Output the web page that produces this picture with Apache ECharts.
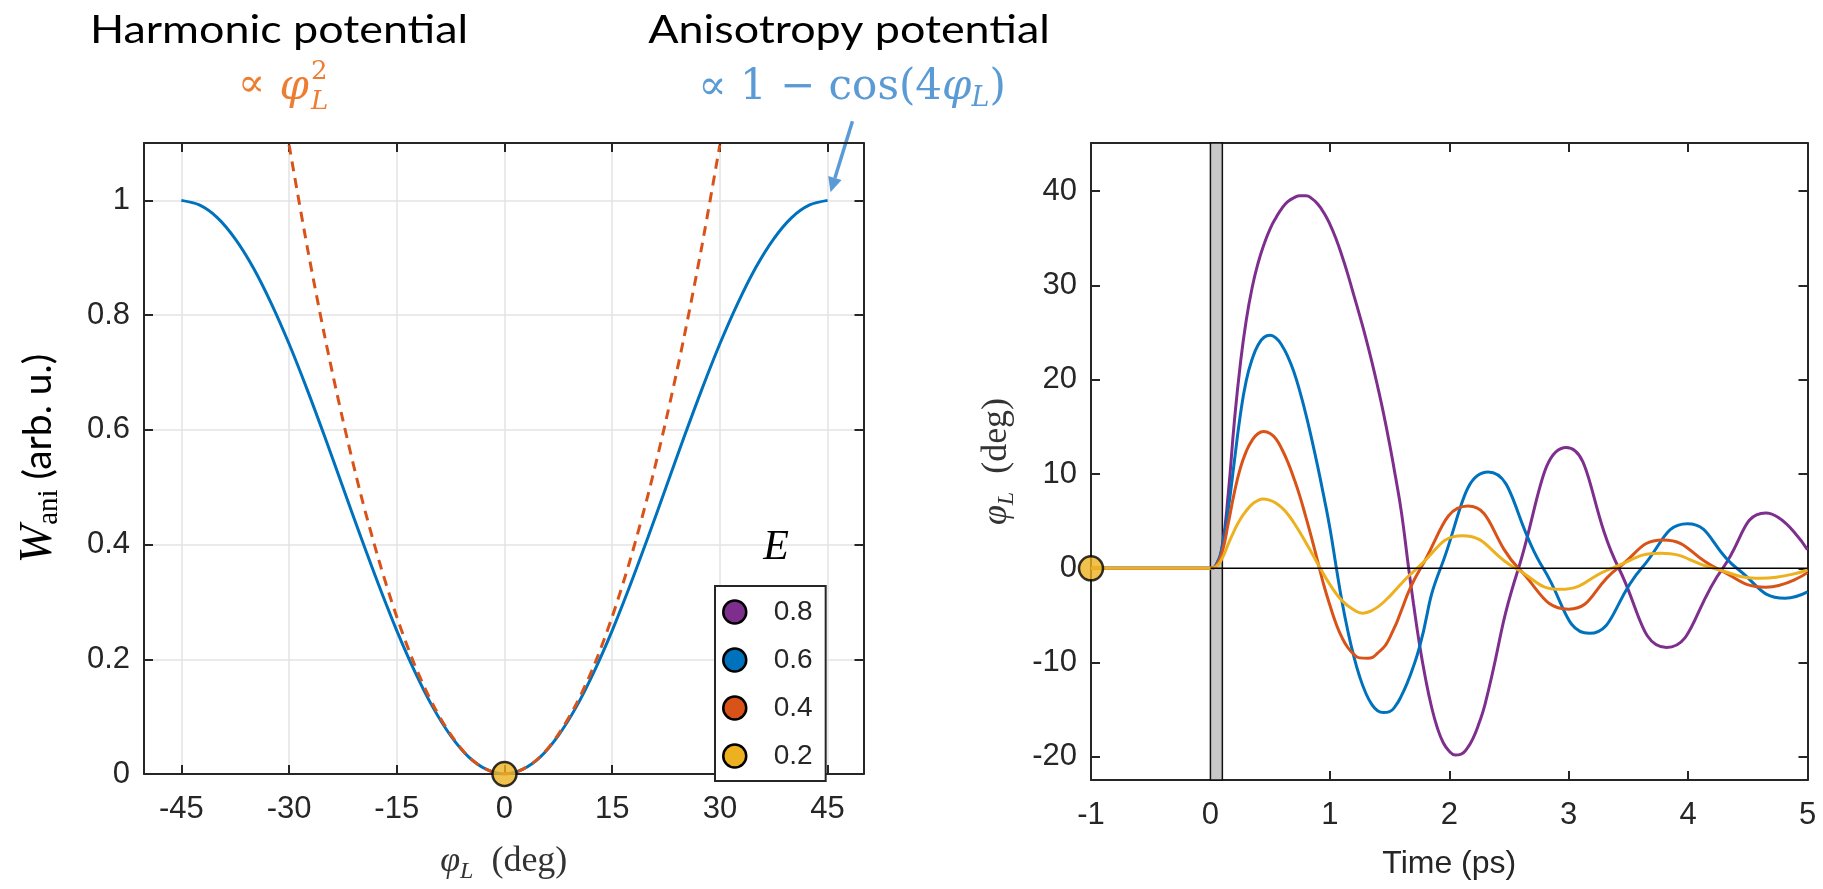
<!DOCTYPE html>
<html><head><meta charset="utf-8">
<script src="https://cdn.jsdelivr.net/npm/echarts@6/dist/echarts.min.js"></script>
<style>html,body{margin:0;padding:0;background:#fff}#c{width:1823px;height:889px}</style>
</head><body><div id="c"></div>
<script>
// ---------- DATA ----------
// Left panel: anisotropy potential W_ani vs phi_L (deg)
const phiDeg = [-45,-42.5,-40,-37.5,-35,-32.5,-30,-27.5,-25,-22.5,-20,-17.5,-15,-12.5,-10,-7.5,-5,-2.5,0,2.5,5,7.5,10,12.5,15,17.5,20,22.5,25,27.5,30,32.5,35,37.5,40,42.5,45];
const wAni   = [1,0.992,0.97,0.933,0.883,0.821,0.75,0.671,0.587,0.5,0.413,0.329,0.25,0.179,0.117,0.067,0.03,0.008,0,0.008,0.03,0.067,0.117,0.179,0.25,0.329,0.413,0.5,0.587,0.671,0.75,0.821,0.883,0.933,0.97,0.992,1];
// harmonic approximation (dashed)
const phiHarm = [-30,-27.5,-25,-22.5,-20,-17.5,-15,-12.5,-10,-7.5,-5,-2.5,0,2.5,5,7.5,10,12.5,15,17.5,20,22.5,25,27.5,30];
const wHarm   = [1.097,0.921,0.761,0.617,0.487,0.373,0.274,0.19,0.122,0.069,0.03,0.008,0,0.008,0.03,0.069,0.122,0.19,0.274,0.373,0.487,0.617,0.761,0.921,1.097];
const xTicksL = [-45,-30,-15,0,15,30,45];
const yTicksL = [0,0.2,0.4,0.6,0.8,1];

// Right panel: phi_L (deg) vs time (ps) for E = 0.8, 0.6, 0.4, 0.2
const energies = ['0.8','0.6','0.4','0.2'];
const tE08 = [-1,0,0.05,0.1,0.15,0.2,0.25,0.3,0.35,0.4,0.45,0.5,0.55,0.6,0.65,0.7,0.75,0.8,0.85,0.9,0.95,1.0,1.05,1.1,1.15,1.2,1.25,1.3,1.35,1.4,1.45,1.5,1.55,1.6,1.66,1.7,1.75,1.8,1.85,1.9,1.95,2.0,2.05,2.1,2.15,2.2,2.25,2.3,2.58,2.98,3.42,3.82,4.29,4.65,5];
const vE08 = [0,0,0.4,2.5,8,15.5,21.6,26.3,29.8,32.4,34.4,36.0,37.2,38.2,38.9,39.3,39.5,39.5,39.2,38.6,37.7,36.5,35.0,33.2,31.2,29.0,26.8,24.5,22.0,19.3,16.4,13.2,9.7,5.9,0,-3.7,-8.0,-11.6,-14.6,-16.9,-18.5,-19.4,-19.8,-19.7,-19.1,-18.0,-16.4,-14.4,0,12.8,0,-8.4,0,5.86,1.96];
const tE06 = [-1,0,0.05,0.1,0.15,0.2,0.25,0.3,0.35,0.4,0.45,0.5,0.55,0.6,0.65,0.7,0.75,0.8,0.85,0.9,0.95,1.0,1.055,1.1,1.15,1.2,1.25,1.3,1.35,1.4,1.45,1.5,1.55,1.6,1.65,1.7,1.75,1.927,2.326,2.787,3.173,3.61,3.994,4.408,4.813,5];
const vE06 = [0,0,0.4,2.3,6.3,11.3,16.2,19.9,22.2,23.7,24.5,24.7,24.4,23.6,22.4,20.8,18.7,16.3,13.6,10.7,7.6,4.3,0,-3.4,-6.6,-9.3,-11.5,-13.2,-14.4,-15.1,-15.3,-15.2,-14.6,-13.5,-12.1,-10.4,-8.4,0,10.2,0,-6.9,0,4.73,0,-3.17,-2.5];
const tE04 = [-1,0,0.05,0.1,0.15,0.2,0.25,0.3,0.35,0.4,0.446,0.5,0.55,0.6,0.65,0.7,0.75,0.8,0.85,0.913,0.95,1.0,1.05,1.1,1.15,1.2,1.25,1.317,1.4,1.5,1.76,2.157,2.58,3.0,3.41,3.79,4.24,4.65,5];
const vE04 = [0,0,0.3,1.8,4.8,8.0,10.6,12.4,13.6,14.3,14.5,14.3,13.7,12.6,11.2,9.5,7.6,5.4,3.1,0,-1.8,-3.9,-5.8,-7.3,-8.4,-9.1,-9.5,-9.54,-9.0,-7.4,0,6.6,0,-4.33,0,3.0,0,-2.0,-0.46];
const tE02 = [-1,0,0.05,0.1,0.15,0.2,0.25,0.3,0.35,0.4,0.44,0.5,0.55,0.6,0.65,0.7,0.75,0.8,0.85,0.92,1.0,1.1,1.2,1.275,1.35,1.45,1.73,2.11,2.555,2.93,3.36,3.77,4.21,4.61,5];
const vE02 = [0,0,0.2,1.1,2.6,4.0,5.2,6.1,6.8,7.2,7.35,7.2,6.9,6.4,5.7,4.8,3.8,2.7,1.6,0,-1.7,-3.4,-4.4,-4.76,-4.5,-3.6,0,3.45,0,-2.23,0,1.6,0,-1.06,-0.18];
const tTicks = [-1,0,1,2,3,4,5];
const yTicksR = [-20,-10,0,10,20,30,40];
const pulse = [0, 0.1];   // excitation pulse window (ps)

// ---------- STYLE ----------
const AX = '#262626';
const SANS = '"Liberation Sans", Arial, sans-serif';
const SERIF = '"Liberation Serif", "DejaVu Serif", serif';
const MATH = '"DejaVu Serif", "Liberation Serif", serif';
const CAL = 'Lato, "Open Sans", sans-serif';
const COLORS = {'0.8':'#7E2F8E','0.6':'#0072BD','0.4':'#D95319','0.2':'#EDB120'};
const zip = (a,b) => a.map((v,i)=>[v,b[i]]);

const chart = echarts.init(document.getElementById('c'));

function axisX(grid, pos, min, max, ticks, showLabels, extra) {
  return Object.assign({
    type:'value', gridIndex:grid, position:pos, min:min, max:max,
    axisLine:{show:true, onZero:false, lineStyle:{color:AX, width:2}},
    axisTick:{show:true, inside:true, length:9, customValues:ticks, lineStyle:{color:AX, width:2}},
    axisLabel:{show:showLabels, customValues:ticks, fontSize:31, color:AX, fontFamily:SANS, margin:20},
    splitLine:{show:false}
  }, extra||{});
}
function axisY(grid, pos, min, max, ticks, showLabels, extra) {
  return Object.assign({
    type:'value', gridIndex:grid, position:pos, min:min, max:max,
    axisLine:{show:true, onZero:false, lineStyle:{color:AX, width:2}},
    axisTick:{show:true, inside:true, length:9, customValues:ticks, lineStyle:{color:AX, width:2}},
    axisLabel:{show:showLabels, customValues:ticks, fontSize:31, color:AX, fontFamily:SANS, margin:14},
    splitLine:{show:false}
  }, extra||{});
}
const gridLine = {show:true, lineStyle:{color:'#e3e3e3', width:1.5}};

const latexRich = {
  p:{fontFamily:SERIF, fontStyle:'italic', fontSize:36, color:'#333'},
  s:{fontFamily:SERIF, fontStyle:'italic', fontSize:24, color:'#333', padding:[20,0,0,0]},
  t:{fontFamily:SERIF, fontSize:36, color:'#333'}
};

const option = {
  animation:false,
  backgroundColor:'#fff',
  grid:[
    {left:144, top:143, width:719.5, height:637},
    {left:1091, top:143, width:716.5, height:637}
  ],
  legend:{
    data:energies, orient:'vertical', left:715, top:586,
    icon:'circle', itemWidth:68, itemHeight:23, itemGap:20,
    padding:[12,13,11,7],
    borderColor:AX, borderWidth:2, backgroundColor:'#fff',
    itemStyle:{borderColor:'#000', borderWidth:2.5},
    textStyle:{fontSize:28, fontFamily:SANS, color:AX, lineHeight:23},
    selectedMode:false
  },
  xAxis:[
    axisX(0,'bottom',-50.2,50,xTicksL,true,{
      splitLine:gridLine,
      name:'{p|φ}{s|L}{t|  (deg)}', nameLocation:'middle', nameGap:66,
      nameTextStyle:{rich:latexRich}
    }),
    axisX(0,'top',-50.2,50,xTicksL,false),
    axisX(1,'bottom',-1,5,tTicks,true,{
      name:'Time (ps)', nameLocation:'middle', nameGap:68,
      nameTextStyle:{fontSize:32, fontFamily:SANS, color:AX}
    }),
    axisX(1,'top',-1,5,tTicks,false)
  ],
  yAxis:[
    axisY(0,'left',0,1.1,yTicksL,true,{
      splitLine:gridLine,
      name:'{w|W}{s|ani}{t| (arb. u.)}', nameLocation:'middle', nameGap:80,
      nameTextStyle:{rich:{
        w:{fontFamily:SERIF, fontStyle:'italic', fontSize:46, color:'#000'},
        s:{fontFamily:SERIF, fontSize:29, color:'#000', padding:[22,0,0,0]},
        t:{fontFamily:CAL, fontSize:39, color:'#000'}
      }}
    }),
    axisY(0,'right',0,1.1,yTicksL,false),
    axisY(1,'left',-22.45,45.1,yTicksR,true,{
      name:'{p|φ}{s|L}{t|  (deg)}', nameLocation:'middle', nameGap:72,
      nameTextStyle:{rich:latexRich}
    }),
    axisY(1,'right',-22.45,45.1,yTicksR,false)
  ],
  series:[
    {type:'line', name:'aniso', xAxisIndex:0, yAxisIndex:0, data:zip(phiDeg,wAni),
     showSymbol:false, symbol:'none', smooth:0.3, lineStyle:{color:'#0072BD', width:3}, z:3},
    {type:'line', name:'harm', xAxisIndex:0, yAxisIndex:0, data:zip(phiHarm,wHarm),
     showSymbol:false, symbol:'none', smooth:0.3, lineStyle:{color:'#D95319', width:3, type:[10,7]}, z:4},
    {type:'scatter', name:'dotL', xAxisIndex:0, yAxisIndex:0, data:[[0,0]], clip:false,
     symbolSize:24, itemStyle:{color:'#EDB120', borderColor:'#000', borderWidth:2.5}, z:10},
    // pulse window + zero line
    {type:'line', name:'zero', xAxisIndex:2, yAxisIndex:2, data:[[pulse[0],0],[5,0]],
     showSymbol:false, symbol:'none', lineStyle:{color:'#000', width:1.5}, z:8,
     markArea:{silent:true, itemStyle:{color:'#c8c8c8', borderColor:'#111', borderWidth:1.5},
       data:[[{xAxis:pulse[0]},{xAxis:pulse[1]}]]}},
    {type:'line', name:'0.8', xAxisIndex:2, yAxisIndex:2, data:zip(tE08,vE08), showSymbol:false, symbol:'none',
     smooth:0.5, color:COLORS['0.8'], lineStyle:{width:3}, z:4},
    {type:'line', name:'0.6', xAxisIndex:2, yAxisIndex:2, data:zip(tE06,vE06), showSymbol:false, symbol:'none',
     smooth:0.5, color:COLORS['0.6'], lineStyle:{width:3}, z:5},
    {type:'line', name:'0.4', xAxisIndex:2, yAxisIndex:2, data:zip(tE04,vE04), showSymbol:false, symbol:'none',
     smooth:0.5, color:COLORS['0.4'], lineStyle:{width:3}, z:6},
    {type:'line', name:'0.2', xAxisIndex:2, yAxisIndex:2, data:zip(tE02,vE02), showSymbol:false, symbol:'none',
     smooth:0.5, color:COLORS['0.2'], lineStyle:{width:3}, z:7},
    {type:'scatter', name:'dotR', xAxisIndex:2, yAxisIndex:2, data:[[-1,0]], clip:false,
     symbolSize:24, itemStyle:{color:'#EDB120', borderColor:'#000', borderWidth:2.5}, z:10}
  ]
};
chart.setOption(option);

// ---------- annotations ----------
const tip = chart.convertToPixel({xAxisIndex:0, yAxisIndex:0}, [45.4, 1.014]);
const tail = [tip[0]+22, tip[1]-71];
const ang = Math.atan2(tip[1]-tail[1], tip[0]-tail[0]);
const hl = 15, hw = 7;
const base = [tip[0]-hl*Math.cos(ang), tip[1]-hl*Math.sin(ang)];
const head = [tip, [base[0]+hw*Math.sin(ang), base[1]-hw*Math.cos(ang)], [base[0]-hw*Math.sin(ang), base[1]+hw*Math.cos(ang)]];
const BLUE = '#5B9BD5', ORANGE = '#ED7D31';

chart.setOption({graphic:[
  {type:'text', x:279, y:30, scaleX:1.15, style:{text:'Harmonic potential', font:'39px '+CAL, fill:'#000', align:'center', verticalAlign:'middle'}},
  {type:'text', x:849, y:30, scaleX:1.15, style:{text:'Anisotropy potential', font:'39px '+CAL, fill:'#000', align:'center', verticalAlign:'middle'}},
  {type:'text', x:265, y:86, style:{text:'∝', font:'40px '+MATH, fill:ORANGE, align:'right', verticalAlign:'middle'}},
  {type:'text', x:309, y:88, style:{text:'φ', font:'italic 42px '+MATH, fill:ORANGE, align:'right', verticalAlign:'middle'}},
  {type:'text', x:311, y:72, style:{text:'2', font:'26px '+MATH, fill:ORANGE, align:'left', verticalAlign:'middle'}},
  {type:'text', x:311, y:102, style:{text:'L', font:'italic 26px '+MATH, fill:ORANGE, align:'left', verticalAlign:'middle'}},
  {type:'text', x:852, y:88, style:{
     text:'{a|∝ 1 − cos(4}{p|φ}{s|L}{a|)}', align:'center', verticalAlign:'middle',
     rich:{a:{font:'42px '+MATH, fill:BLUE}, p:{font:'italic 42px '+MATH, fill:BLUE}, s:{font:'italic 27px '+MATH, fill:BLUE, padding:[22,0,0,0]}}}},
  {type:'line', shape:{x1:tail[0], y1:tail[1], x2:base[0], y2:base[1]}, style:{stroke:BLUE, lineWidth:3.5}},
  {type:'polygon', shape:{points:head}, style:{fill:BLUE}},
  {type:'text', x:776, y:548, style:{text:'E', font:'italic 42px '+SERIF, fill:'#000', align:'center', verticalAlign:'middle'}, z:20}
]});
</script>
</body></html>
